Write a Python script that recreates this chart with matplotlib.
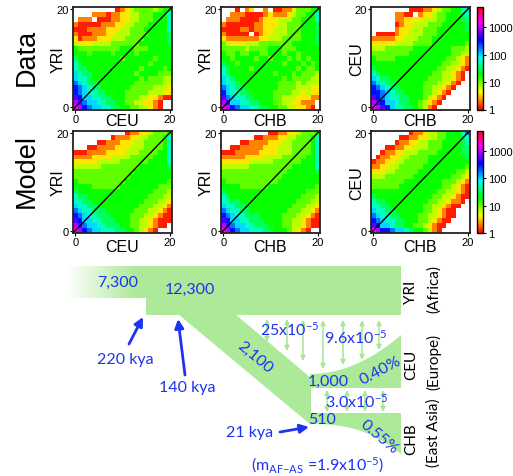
import numpy as np
import matplotlib
matplotlib.use('Agg')
import matplotlib.pyplot as plt
from matplotlib.colors import LogNorm, to_rgb
from matplotlib.patches import Polygon, Rectangle

plt.rcParams['mathtext.fontset'] = 'custom'
plt.rcParams['mathtext.rm'] = 'Lato'
plt.rcParams['mathtext.it'] = 'Lato:italic'
plt.rcParams['mathtext.bf'] = 'Lato:bold'

# ---------------- data ----------------
# each cell: level code -> log10(count) from LOG_LEVELS; '.' = masked (no data)
LEVELS = '0123456789abcde'
LOG_LEVELS = [0.08, 0.33, 0.58, 0.81, 1.03, 1.25, 1.5, 1.75, 2.0, 2.25, 2.5, 2.75, 3.0, 3.25, 3.5]
row_titles = ['Data', 'Model']
x_pops = ['CEU', 'CHB', 'CHB']
y_pops = ['YRI', 'YRI', 'CEU']
cbar_ticks = [1, 10, 100, 1000]
cbar_labels = ['1', '10', '100', '1000']
vmin, vmax = 1, 5600

# rows listed from top (y=20) to bottom (y=0); columns x=0..20
data_yri_ceu = [
    ".........012344443455",
    "....11101122334445557",
    ".111.0001122334445557",
    "100000111223344455557",
    "000111122233444555557",
    "100011122333444455556",
    "201112223334444555556",
    "322233334444445555556",
    "544444444455544455555",
    "555455554555545555555",
    "655555555545555554555",
    "765555555555555545555",
    "766555555555554555545",
    "876655555555545555444",
    "877655555555554544433",
    "987665555555544444433",
    "a98766555555444443332",
    "a98776655554444433322",
    "ba8877665554443322100",
    "cb98877665544332210..",
    "dca9887766554433210..",
]
data_yri_chb = [
    "...0.12..1.0011244455",
    "..1110000121112344557",
    ".11100001222333445557",
    "100000011222334445556",
    "000011011223334445556",
    "100000.01223334445556",
    "211111112233344445556",
    "432223334444444555556",
    "444443444455544455555",
    "544544554455545545555",
    "554555545545554545455",
    "655455555555545554545",
    "765555455555555545445",
    "765555555554555454443",
    "876555555555545444433",
    "877655555555444434333",
    "987665555555444433322",
    "a87766555554444332322",
    "b98776655554433322211",
    "cb887766555443322111.",
    "dca98877665544332210.",
]
data_ceu_chb = [
    "........0001123445578",
    ".....1100.12234455567",
    ".....1122223334455566",
    ".....0122333444555556",
    ".....1223334445555556",
    ".00001223334445555555",
    "111112233344455555555",
    "222223333444455555554",
    "333444444555555554443",
    "444444445555555554433",
    "544445555555555544321",
    "555555555555555443321",
    "655555555555554433210",
    "76555555555554433210.",
    "87665555555544433210.",
    "9876655555544433210..",
    "a98766555554433210...",
    "aa987665555443210....",
    "ba98776655543210.....",
    "cba887665543210......",
    "dcba8776654310.......",
]
model_yri_ceu = [
    "...........0112234445",
    "........0111223344457",
    ".....0011122233444457",
    "...001111222333444457",
    "000111122223334444557",
    "111122223333444445557",
    "222223333344444455557",
    "333333444444445555556",
    "444444444444455555555",
    "444444444444555555555",
    "544444444445555555554",
    "555544444455555555444",
    "655555555555555554443",
    "766555555555555544433",
    "776655555555555444332",
    "877665555555554443321",
    "987766655555544433210",
    "a98776665555444332100",
    "ba8877666555443321000",
    "cb988776665544332100.",
    "dca988777665543210...",
]
model_yri_chb = [
    "..........00112234445",
    ".......00111223344457",
    "....00111122233444457",
    "..0011111222333444457",
    "000111112222333444457",
    "111112222333344444557",
    "222222333334444445557",
    "333333444444444555557",
    "444444444444445555556",
    "444444444444455555555",
    "544444444444555555555",
    "555544444455555555554",
    "655555555555555555444",
    "765555555555555554443",
    "776655555555555544433",
    "877665555555555444332",
    "987766555555554443321",
    "a98776665555544433210",
    "ba8877666555544332100",
    "cb9887766655544332100",
    "dca9887776655543210..",
]
model_ceu_chb = [
    "........0112334455579",
    "......001122334455567",
    ".....0112233444555567",
    "...001122333444555566",
    "..0112233344445555566",
    ".01122334444555555556",
    "011223344444555555555",
    "112233444445555555554",
    "222334444455555555443",
    "333444444555555554432",
    "444444455555555444321",
    "444444555555555443210",
    "555555555555554433210",
    "655555555555544332100",
    "76655555555544332110.",
    "7766555555544332100..",
    "877665555554432100...",
    "987766555544332100...",
    "a9877665554432100....",
    "ba88766554432100.....",
    "dcaa98876554310......",
]
panels = [[data_yri_ceu, data_yri_chb, data_ceu_chb],
          [model_yri_ceu, model_yri_chb, model_ceu_chb]]

# diagram values
pop_sizes = {'anc': '7,300', 'afr': '12,300', 'b': '2,100', 'eu': '1,000', 'as': '510'}
growth = {'eu': '0.40%', 'as': '0.55%'}
times = ['220 kya', '140 kya', '21 kya']


def decode(rows):
    arr = np.full((21, 21), np.nan)
    for i, row in enumerate(rows):
        row = (row + '.' * 21)[:21]
        for j, ch in enumerate(row):
            if ch != '.':
                arr[20 - i, j] = 10 ** LOG_LEVELS[LEVELS.index(ch)]
    return np.ma.masked_invalid(arr)


W, H = 513, 477
fig = plt.figure(figsize=(W / 100, H / 100), dpi=100)

# ---------------- diagram (pixel coordinates) ----------------
dg = fig.add_axes([0, 0, 1, 1], zorder=0)
dg.set_facecolor('none')
GREEN = '#acea99'
AGREEN = '#a6e895'
BLUE = '#1d33f2'

grad = np.clip(np.linspace(0, 1, 256) * 1.15, 0, 1)
rgba = np.zeros((1, 256, 4))
rgba[..., :3] = to_rgb(GREEN)
rgba[..., 3] = grad
dg.imshow(rgba, extent=(66, 147, 299, 267), aspect='auto', interpolation='bilinear', zorder=1)
dg.add_patch(Rectangle((146, 267), 255, 49, color=GREEN, lw=0, zorder=1))
dg.add_patch(Polygon([(178, 315), (235, 315), (311, 379), (311, 426)], closed=True,
                     color=GREEN, lw=0, zorder=1))
xs = np.linspace(310, 401, 80)
t = (xs - 310) / 91
top_eu = 375 - 39 * t ** 2
dg.add_patch(Polygon(list(zip(xs, top_eu)) + [(401, 389), (310, 389)], closed=True,
                     color=GREEN, lw=0, zorder=1))
bot_as = 425 + 30 * t ** 2.5
dg.add_patch(Polygon([(310, 414), (401, 414)] + list(zip(xs[::-1], bot_as[::-1])), closed=True,
                     color=GREEN, lw=0, zorder=1))


def garrow(x, y0, y1):
    dg.annotate('', xy=(x, y1), xytext=(x, y0),
                arrowprops=dict(arrowstyle='<|-|>', color=AGREEN, lw=1.1,
                                mutation_scale=7, shrinkA=0, shrinkB=0), zorder=2)


for x, y0, y1 in [(267, 320, 343), (287, 320, 352), (303, 321, 362),
                  (323, 321, 370), (343, 321, 366), (362, 321, 361), (379, 321, 351)]:
    garrow(x, y0, y1)
for x in [327, 347, 365, 383]:
    garrow(x, 391, 413)


def barrow(tail, head):
    dg.annotate('', xy=head, xytext=tail,
                arrowprops=dict(arrowstyle='-|>', color=BLUE, lw=2,
                                mutation_scale=13, shrinkA=0, shrinkB=0), zorder=3)


barrow((129, 345), (143, 318))
barrow((185, 376), (178, 320))
barrow((280, 433), (309, 428))

tk = dict(color=BLUE, family='Lato', fontsize=11.5, ha='center', va='center', zorder=4)
dg.text(118, 283, pop_sizes['anc'], **tk)
dg.text(190, 290, pop_sizes['afr'], **tk)
dg.text(255, 358, pop_sizes['b'], rotation=-40, **tk)
dg.text(328, 382, pop_sizes['eu'], **tk)
dg.text(322, 420, pop_sizes['as'], **tk)
dg.text(380, 371, growth['eu'], rotation=28, **tk)
dg.text(379, 437, growth['as'], rotation=-40, **tk)
dg.text(290, 330, r'25x10$^{-5}$', **tk)
dg.text(356, 338, r'9.6x10$^{-5}$', **tk)
dg.text(357, 402, r'3.0x10$^{-5}$', **tk)
dg.text(125, 360, times[0], **tk)
dg.text(187, 388, times[1], **tk)
dg.text(250, 433, times[2], **tk)
dg.text(318, 465, r'(m$_{\mathrm{AF{-}AS}}$ =1.9x10$^{-5}$)', **tk)

lk = dict(color='black', family='Lato', fontsize=11, ha='center', va='center', rotation=90)
dg.text(411, 292, 'YRI', **lk)
dg.text(434, 289, '(Africa)', **lk)
dg.text(411, 365, 'CEU', **lk)
dg.text(434, 362, '(Europe)', **lk)
dg.text(411, 439, 'CHB', **lk)
dg.text(434, 433, '(East Asia)', **lk)

dg.set_xlim(0, W)
dg.set_ylim(H, 0)
dg.axis('off')

# ---------------- heatmaps ----------------
cmap = plt.get_cmap('hsv').copy()
cmap.set_bad('white')
norm = LogNorm(vmin=vmin, vmax=vmax)
lefts = [73, 221, 371]
tops = [8, 131.5]
pw, ph = 99, 102.5
for r in range(2):
    for c in range(3):
        ax = fig.add_axes([lefts[c] / W, 1 - (tops[r] + ph) / H, pw / W, ph / H], zorder=2)
        arr = decode(panels[r][c])
        im = ax.imshow(arr, cmap=cmap, norm=norm, origin='lower', interpolation='nearest',
                       extent=(-0.5, 20.5, -0.5, 20.5), aspect='auto')
        ax.plot([-0.5, 20.5], [-0.5, 20.5], color='black', lw=1)
        ax.set_xlim(-0.5, 20.5)
        ax.set_ylim(-0.5, 20.5)
        ax.set_xticks([0, 20])
        ax.set_yticks([0, 20])
        ax.tick_params(labelsize=8, length=2, pad=1, width=0.8)
        for lab in ax.get_xticklabels() + ax.get_yticklabels():
            lab.set_family('Liberation Sans')
        for s in ax.spines.values():
            s.set_linewidth(1.3)
            s.set_color('#222222')
        ax.set_xlabel(x_pops[c], fontsize=11.5, family='Liberation Sans')
        ax.set_ylabel(y_pops[c], fontsize=11.5, family='Liberation Sans')
        ax.xaxis.set_label_coords(0.5, -0.035 if r == 0 else -0.055)
        ax.yaxis.set_label_coords(-0.07, 0.5)
    cax = fig.add_axes([477 / W, 1 - (tops[r] + ph) / H, 5.5 / W, ph / H], zorder=2)
    cb = fig.colorbar(im, cax=cax, ticks=cbar_ticks)
    cb.ax.set_yticklabels(cbar_labels)
    cb.ax.minorticks_off()
    cb.ax.tick_params(labelsize=8, length=2, pad=2)
    for lab in cb.ax.get_yticklabels():
        lab.set_family('Liberation Sans')
    cb.outline.set_linewidth(1)
    fig.text(27 / W, 1 - (57 if r == 0 else 171) / H, row_titles[r], rotation=90,
             fontsize=19.5, family='Liberation Sans', ha='center', va='center')

fig.savefig('out.png', dpi=100)
